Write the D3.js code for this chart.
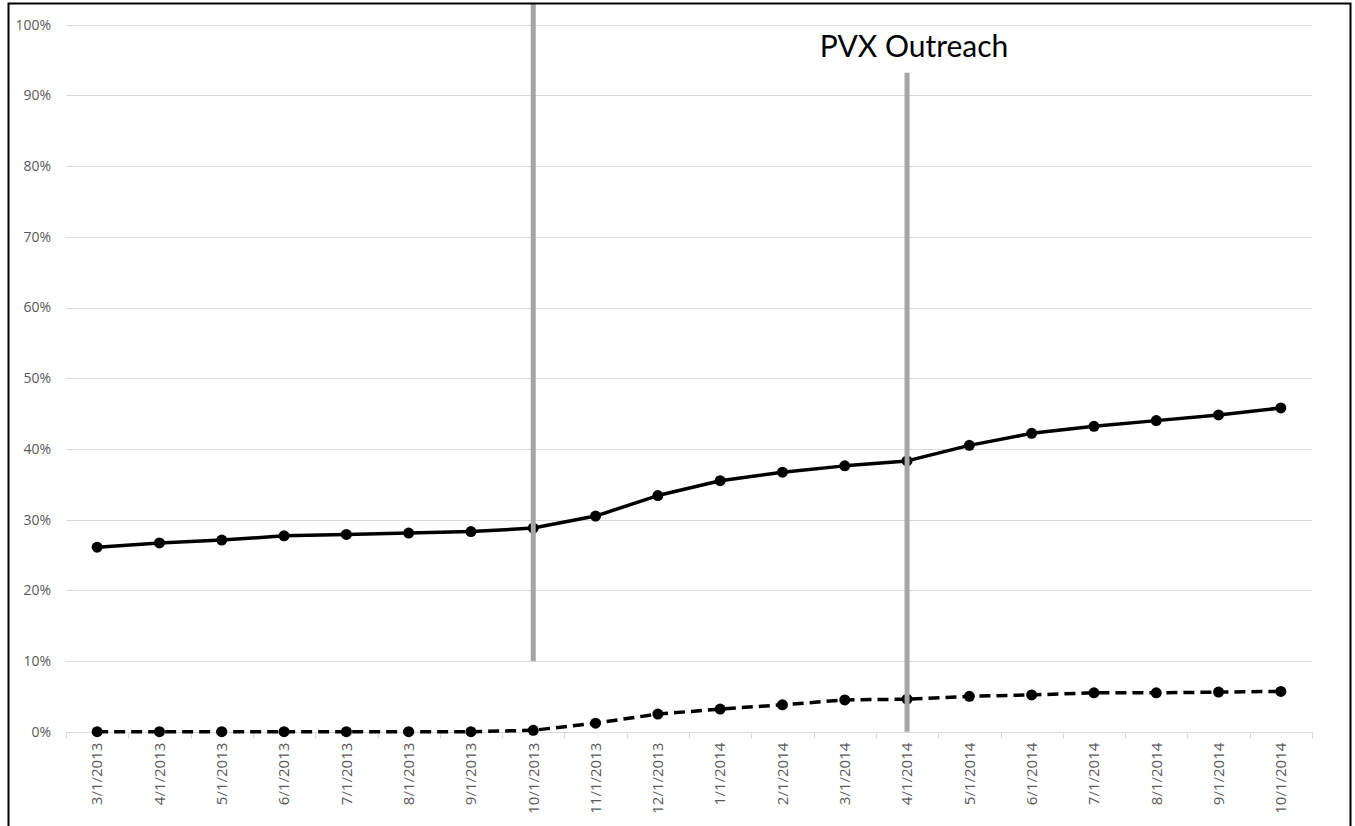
<!DOCTYPE html>
<html>
<head>
<meta charset="utf-8">
<script src="https://cdn.jsdelivr.net/npm/d3@7"></script>
<style>
  body { margin: 0; background: #fff; }
  svg { display: block; }
  .tick text { font-family: "Open Sans", Lato, sans-serif; fill: #595959; }
</style>
</head>
<body>
<div id="chart"></div>
<script>
// months on the category axis
var months = ["3/1/2013","4/1/2013","5/1/2013","6/1/2013","7/1/2013","8/1/2013","9/1/2013",
  "10/1/2013","11/1/2013","12/1/2013","1/1/2014","2/1/2014","3/1/2014","4/1/2014",
  "5/1/2014","6/1/2014","7/1/2014","8/1/2014","9/1/2014","10/1/2014"];

// solid series (share, 0..1)
var solidValues = [0.261,0.267,0.271,0.277,0.279,0.281,0.283,0.288,0.305,0.334,
  0.355,0.367,0.376,0.383,0.405,0.422,0.432,0.440,0.448,0.458];

// dashed series
var dashedValues = [0,0,0,0,0,0,0,0.002,0.012,0.025,
  0.032,0.038,0.045,0.046,0.050,0.052,0.055,0.055,0.056,0.057];

var yTicks = [0,0.1,0.2,0.3,0.4,0.5,0.6,0.7,0.8,0.9,1];

// grey marker lines: month, bottom value, top value
var markers = [
  {month: "10/1/2013", from: 0.10, to: 1.03},
  {month: "4/1/2014", from: 0, to: 0.932}
];
var annotation = {month: "4/1/2014", value: 0.955, text: "PVX Outreach"};

var width = 1355, height = 826;

var svg = d3.select('#chart').append('svg')
  .attr('width', width)
  .attr('height', height);

var x = d3.scaleBand().domain(months).range([66, 1312]);
var y = d3.scaleLinear().domain([0, 1]).range([731.7, 24.7]);
var cx = function(m) { return x(m) + x.bandwidth()/2; };

// gridlines
svg.append('g')
  .selectAll('line')
  .data(yTicks)
  .enter().append('line')
  .attr('x1', 66).attr('x2', 1312)
  .attr('y1', function(d) { return Math.round(y(d)) + 0.5; })
  .attr('y2', function(d) { return Math.round(y(d)) + 0.5; })
  .attr('stroke', '#d9d9d9')
  .attr('stroke-width', 1);

// y axis labels
var yAxis = svg.append('g')
  .attr('transform', 'translate(58,0)')
  .call(d3.axisLeft(y).tickValues(yTicks).tickSize(0).tickPadding(7).tickFormat(d3.format('.0%')));
yAxis.select('.domain').remove();
yAxis.selectAll('text').style('font-size', '14px');

// x axis (ticks at category boundaries)
var bounds = months.map(function(m) { return x(m); }).concat([x.range()[1]]);
svg.append('g')
  .selectAll('line')
  .data(bounds)
  .enter().append('line')
  .attr('x1', function(d) { return Math.round(d) + 0.5; })
  .attr('x2', function(d) { return Math.round(d) + 0.5; })
  .attr('y1', Math.round(y(0)))
  .attr('y2', Math.round(y(0)) + 6)
  .attr('stroke', '#d9d9d9');

var xAxis = svg.append('g')
  .attr('transform', 'translate(0,' + y(0) + ')')
  .call(d3.axisBottom(x).tickSize(0).tickPadding(0));
xAxis.select('.domain').remove();
xAxis.selectAll('text')
  .style('font-size', '15px')
  .attr('transform', 'rotate(-90)')
  .attr('text-anchor', 'end')
  .attr('dy', '0.35em')
  .attr('x', -11)
  .attr('y', 0);

// series
var line = d3.line()
  .x(function(d, i) { return cx(months[i]); })
  .y(function(d) { return y(d); });

function drawSeries(vals, dash) {
  var g = svg.append('g');
  g.append('path')
    .datum(vals)
    .attr('d', line)
    .attr('fill', 'none')
    .attr('stroke', '#000')
    .attr('stroke-width', 3.5)
    .attr('stroke-dasharray', dash)
    .attr('stroke-linejoin', 'round');
  g.selectAll('circle')
    .data(vals)
    .enter().append('circle')
    .attr('cx', function(d, i) { return cx(months[i]); })
    .attr('cy', function(d) { return y(d); })
    .attr('r', 5.5)
    .attr('fill', '#000');
}
drawSeries(solidValues, null);
drawSeries(dashedValues, '11,6');

// grey vertical markers, drawn over the series
svg.append('g')
  .selectAll('line')
  .data(markers)
  .enter().append('line')
  .attr('x1', function(d) { return cx(d.month); })
  .attr('x2', function(d) { return cx(d.month); })
  .attr('y1', function(d) { return y(d.from); })
  .attr('y2', function(d) { return y(d.to); })
  .attr('stroke', '#a5a5a5')
  .attr('stroke-width', 5);

svg.append('text')
  .attr('x', cx(annotation.month) + 7)
  .attr('y', y(annotation.value))
  .attr('text-anchor', 'middle')
  .attr('font-family', 'Lato, "Open Sans", sans-serif')
  .attr('font-size', 30)
  .attr('fill', '#000')
  .text(annotation.text);

// outer frame
svg.append('rect')
  .attr('x', 8.5).attr('y', 3.5)
  .attr('width', 1342).attr('height', 840)
  .attr('fill', 'none')
  .attr('stroke', '#000')
  .attr('stroke-width', 2);
</script>
</body>
</html>
